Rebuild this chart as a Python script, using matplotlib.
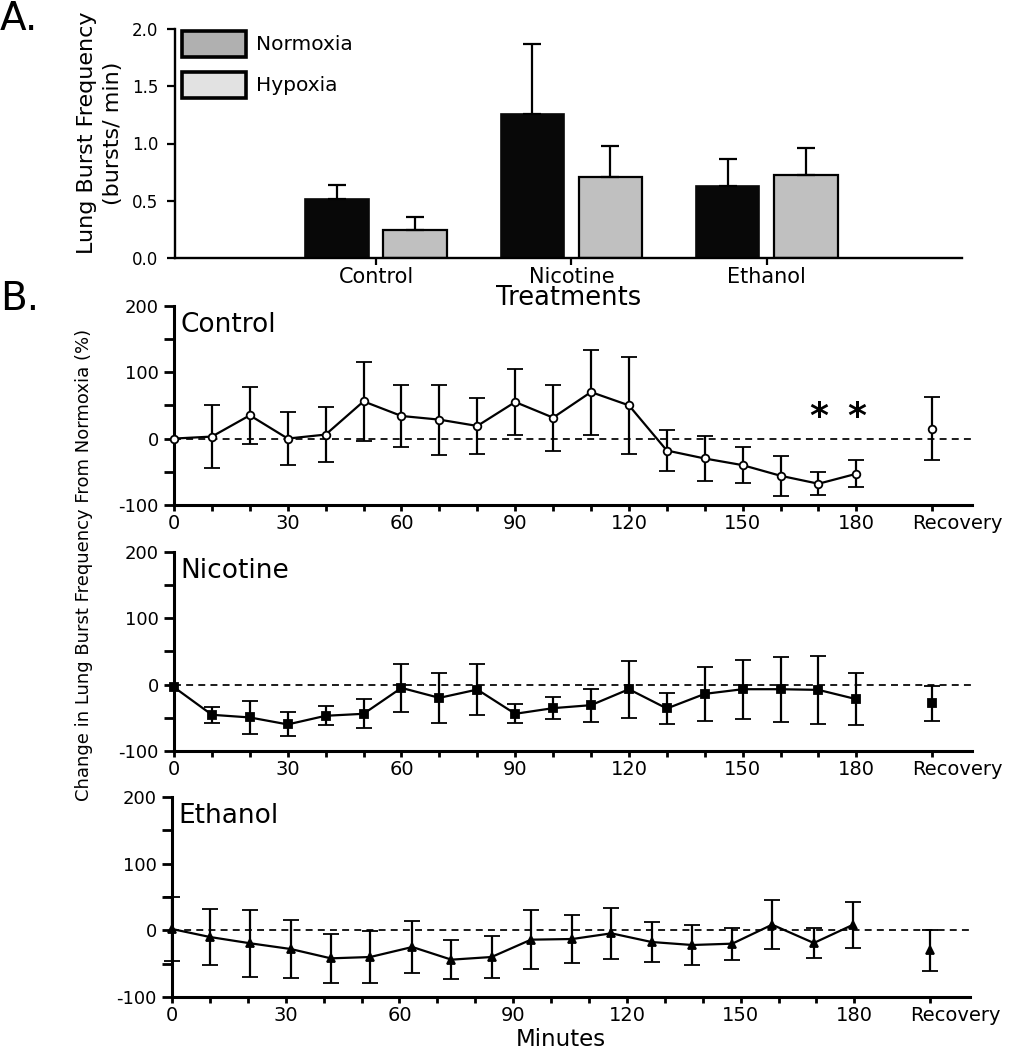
import numpy as np
import matplotlib
matplotlib.use("Agg")
import matplotlib.pyplot as plt
from matplotlib.patches import Rectangle
from matplotlib.transforms import ScaledTranslation

# ---------------- data ----------------
categories = ["Control", "Nicotine", "Ethanol"]
normoxia = [0.515, 1.26, 0.63]
normoxia_err = [0.125, 0.61, 0.235]
hypoxia = [0.245, 0.71, 0.725]
hypoxia_err = [0.115, 0.27, 0.235]

minutes = [0, 10, 20, 30, 40, 50, 60, 70, 80, 90, 100, 110, 120, 130, 140, 150, 160, 170, 180]
control_mean = [0, 3, 35, 0, 6, 56, 34, 28.5, 19, 55, 31.5, 70, 50, -18, -30, -40, -56, -68, -53]
control_sem = [0, 48, 43, 40, 41, 60, 47, 52.5, 42, 49, 49.5, 64, 73, 31, 34, 27, 30, 17.5, 20]
control_recovery = 15
control_recovery_sem = 48

nicotine_mean = [-4, -45.5, -49.5, -60, -47, -44, -5, -20, -7.5, -44, -35.5, -31, -7, -36, -14, -7, -7, -8, -22]
nicotine_sem = [0, 12, 24.5, 18, 14, 22, 36, 37.5, 38.5, 14, 17, 25, 43, 24, 41, 44.5, 49, 51, 39]
nicotine_recovery = -28
nicotine_recovery_sem = 26.5

ethanol_minutes = [0, 10, 20.7, 31.3, 41.9, 52.3, 63.4, 73.7, 84.3, 94.7, 105.6, 115.9, 126.5, 137.2,
                   147.8, 158.3, 169.3, 179.7]
ethanol_mean = [2, -10, -19.5, -28, -42, -40, -25, -44, -40, -14, -13, -4.5, -17.5, -22, -20, 8.5, -19, 8.5]
ethanol_sem = [48.5, 41.5, 50, 44, 37, 38.7, 39, 29.5, 31.5, 44.7, 35.5, 38.5, 30.5, 30, 24, 37, 22, 34.5]
ethanol_recovery = -30
ethanol_recovery_sem = 31

significant_minutes = [170, 180]
RECOVERY = 200

# ---------------- figure ----------------
W, H = 1017, 1050
fig = plt.figure(figsize=(W / 100, H / 100), dpi=100)
plt.rcParams["font.family"] = ["DejaVu Sans"]


def px_rect(l, t, r, b):
    return [l / W, 1 - b / H, (r - l) / W, (b - t) / H]


# ---------------- panel A ----------------
axA = fig.add_axes(px_rect(175, 29, 962, 258))
x = np.arange(len(categories))
ekw = dict(elinewidth=1.6, capthick=1.6, ecolor="black")
axA.bar(x - 0.2, normoxia, 0.325, color="#080808", edgecolor="#080808", linewidth=1.2,
        yerr=[np.zeros(3), normoxia_err], capsize=6.2, error_kw=ekw, zorder=2)
axA.bar(x + 0.2, hypoxia, 0.325, color="#c0c0c0", edgecolor="black", linewidth=1.6,
        yerr=[np.zeros(3), hypoxia_err], capsize=6.2, error_kw=ekw, zorder=2)
axA.set_xlim(-1.03, 3.0)
axA.set_ylim(0, 2.0)
axA.set_yticks([0, 0.5, 1.0, 1.5, 2.0])
axA.set_yticklabels(["0.0", "0.5", "1.0", "1.5", "2.0"])
axA.set_xticks(x)
axA.set_xticklabels(categories)
for s in ["top", "right"]:
    axA.spines[s].set_visible(False)
for s in ["left", "bottom"]:
    axA.spines[s].set_linewidth(1.7)
axA.tick_params(axis="y", length=6, width=1.6, labelsize=12, pad=6)
axA.tick_params(axis="x", length=5, width=1.6, labelsize=15, pad=1.5)
axA.set_ylabel("Lung Burst Frequency\n(bursts/ min)", fontsize=16, linespacing=1.35)
axA.yaxis.set_label_coords(-0.066, 0.545)
axA.set_xlabel("Treatments", fontsize=18.5)
axA.xaxis.set_label_coords(0.5, -0.118)

# legend boxes
leg_items = [("Normoxia", "#b0b0b0", 0.878), ("Hypoxia", "#e2e2e2", 0.699)]
for label, fc, yb in leg_items:
    axA.add_patch(Rectangle((0.009, yb), 0.0813, 0.112, transform=axA.transAxes,
                            facecolor=fc, edgecolor="black", linewidth=2.6, clip_on=False))
    axA.text(0.103, yb + 0.056, label, transform=axA.transAxes, fontsize=14.5,
             va="center", ha="left")

fig.text(0.0, 1.0, "A.", fontsize=28, ha="left", va="top")

# ---------------- panel B ----------------
fig.text(0.0, 1 - 280 / H, "B.", fontsize=28, ha="left", va="top")

tick_pos = list(range(0, 181, 10)) + [RECOVERY]
tick_lab = [str(t) if t % 30 == 0 else "" for t in range(0, 181, 10)] + ["Recovery"]


def panel(rect, xs, mean, sem, rmean, rsem, marker, mfc, title, ms):
    ax = fig.add_axes(rect)
    ax.axhline(0, color="black", lw=1.25, ls=(0, (4, 3)), zorder=1)
    sem_p = np.where(np.array(sem) > 0, sem, np.nan)
    style = dict(color="black", lw=1.6, marker=marker, ms=ms, mfc=mfc, mec="black", mew=1.3,
                 capsize=5.5, elinewidth=1.6, capthick=1.6, zorder=3)
    c1 = ax.errorbar(xs, mean, yerr=sem_p, **style)
    c2 = ax.errorbar([RECOVERY], [rmean], yerr=[rsem], ls="none", **style)
    for c in (c1, c2):
        for art in c.get_children():
            art.set_clip_on(False)
    ax.set_xlim(0, 210.5)
    ax.set_ylim(-100, 200)
    ax.set_yticks([-100, -50, 0, 50, 100, 150, 200])
    ax.set_yticklabels(["-100", "", "0", "", "100", "", "200"])
    ax.set_xticks(tick_pos)
    ax.set_xticklabels(tick_lab)
    for s in ["top", "right"]:
        ax.spines[s].set_visible(False)
    for s in ["left", "bottom"]:
        ax.spines[s].set_linewidth(2.2)
    ax.tick_params(axis="y", length=7, width=2, labelsize=13, pad=4)
    ax.tick_params(axis="x", length=4.5, width=2, labelsize=14, pad=2)
    for lbl in ax.get_xticklabels():
        if lbl.get_text() == "Recovery":
            lbl.set_transform(lbl.get_transform() + ScaledTranslation(0.25, 0, fig.dpi_scale_trans))
    ax.text(0.008, 0.97, title, transform=ax.transAxes, fontsize=19, ha="left", va="top")
    return ax


axC = panel(px_rect(174, 305.7, 972, 505), minutes, control_mean, control_sem,
            control_recovery, control_recovery_sem, "o", "white", "Control", 5.5)
for m in significant_minutes:
    axC.text(m, 17, "*", fontsize=26, fontweight="bold", ha="center", va="baseline")

axN = panel(px_rect(174, 551.7, 972, 751), minutes, nicotine_mean, nicotine_sem,
            nicotine_recovery, nicotine_recovery_sem, "s", "black", "Nicotine", 5.5)
axE = panel(px_rect(172, 797, 970, 997), ethanol_minutes, ethanol_mean, ethanol_sem,
            ethanol_recovery, ethanol_recovery_sem, "^", "black", "Ethanol", 5.5)

fig.text(84 / W, 1 - 565 / H, "Change in Lung Burst Frequency From Normoxia (%)", fontsize=13,
         rotation=90, ha="center", va="center")
fig.text(561 / W, 1 - 1040 / H, "Minutes", fontsize=16.5, ha="center", va="center")

fig.savefig("out.png", dpi=100)
